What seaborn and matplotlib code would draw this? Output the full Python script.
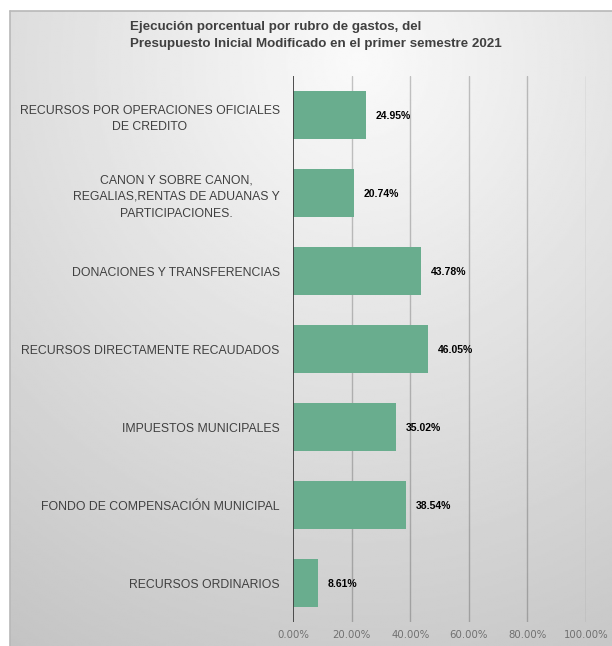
import numpy as np
import pandas as pd
import matplotlib
matplotlib.use("Agg")
import matplotlib.pyplot as plt
from matplotlib import font_manager
import seaborn as sns

# Données du graphique
categorias = [
    "RECURSOS POR OPERACIONES OFICIALES\nDE CREDITO",
    "CANON Y SOBRE CANON,\nREGALIAS,RENTAS DE ADUANAS Y\nPARTICIPACIONES.",
    "DONACIONES Y TRANSFERENCIAS",
    "RECURSOS DIRECTAMENTE RECAUDADOS",
    "IMPUESTOS MUNICIPALES",
    "FONDO DE COMPENSACIÓN MUNICIPAL",
    "RECURSOS ORDINARIOS",
]
ejecucion = [0.2495, 0.2074, 0.4378, 0.4605, 0.3502, 0.3854, 0.0861]
ticks_x = [0.0, 0.2, 0.4, 0.6, 0.8, 1.0]
titulo = ("Ejecución porcentual por rubro de gastos, del\n"
          "Presupuesto Inicial Modificado en el primer semestre 2021")

COULEUR_BARRE = "#69ad8e"


def police(noms):
    dispo = {f.name for f in font_manager.fontManager.ttflist}
    for n in noms:
        if n in dispo:
            return n
    return "DejaVu Sans"


NARROW = police(["Liberation Sans Narrow", "Liberation Sans", "DejaVu Sans"])
SANS = police(["Liberation Sans", "DejaVu Sans"])

sns.set_theme(style="white")
plt.rcParams["font.family"] = [SANS, "DejaVu Sans"]

W, H = 612, 646
fig = plt.figure(figsize=(W / 100, H / 100), dpi=100)
fig.patch.set_facecolor("white")

# fond dégradé radial
x0, y0 = 10 / W, 11 / H
bg = fig.add_axes([x0, 0, 1 - x0, 1 - y0])
yy, xx = np.mgrid[0:1:300j, 0:1:300j]
dist = np.sqrt((xx - 0.58) ** 2 + (yy - 0.08) ** 2)
val = np.clip(250 - 50 * dist, 0, 255) / 255
bg.imshow(val, cmap="gray", vmin=0, vmax=1, aspect="auto",
          extent=[0, 1, 1, 0], interpolation="bilinear")
bg.plot([0, 0], [0, 1], color="#b8b8b8", lw=1.2, transform=bg.transAxes, clip_on=False)
bg.plot([0, 1], [1, 1], color="#b8b8b8", lw=1.2, transform=bg.transAxes, clip_on=False)
bg.set_axis_off()

ax = fig.add_axes([293 / W, 1 - 622 / H, (586 - 293) / W, (622 - 76) / H])
ax.set_facecolor("none")

df = pd.DataFrame({"categoria": categorias, "ejecucion": ejecucion})
sns.barplot(data=df, x="ejecucion", y="categoria", orient="h",
            color=COULEUR_BARRE, saturation=1, width=0.62, linewidth=0,
            ax=ax, zorder=3)

ax.set_xlim(0, 1.0)
ax.set_xticks(ticks_x)
ax.set_xticklabels([f"{t*100:.2f}%" for t in ticks_x],
                   fontsize=7.3, color="#707070", family="DejaVu Sans")
for t in ticks_x[1:]:
    ax.axvline(t, color="black", alpha=0.22, lw=1, zorder=1)
ax.axvline(0, color="#404040", lw=1.3, zorder=4)

ax.set_yticks(range(len(categorias)))
ax.set_yticklabels(categorias, fontsize=8.8, color="#404040",
                   multialignment="center", linespacing=1.55)
ax.tick_params(axis="y", length=0, pad=9.5)
ax.tick_params(axis="x", length=0, pad=6)
ax.set_xlabel("")
ax.set_ylabel("")
for s in ax.spines.values():
    s.set_visible(False)

for i, v in enumerate(ejecucion):
    ax.annotate(f"{v*100:.2f}%", xy=(v, i), xytext=(7, -1), textcoords="offset points",
                ha="left", va="center", fontsize=7.5, fontweight="bold",
                color="black", family=NARROW)

fig.text(130 / W, 1 - 21 / H, titulo, ha="left", va="top", fontsize=9.6,
         fontweight="bold", color="#404040", family=NARROW, linespacing=1.55)

plt.savefig("out.png", dpi=100)
plt.close()
